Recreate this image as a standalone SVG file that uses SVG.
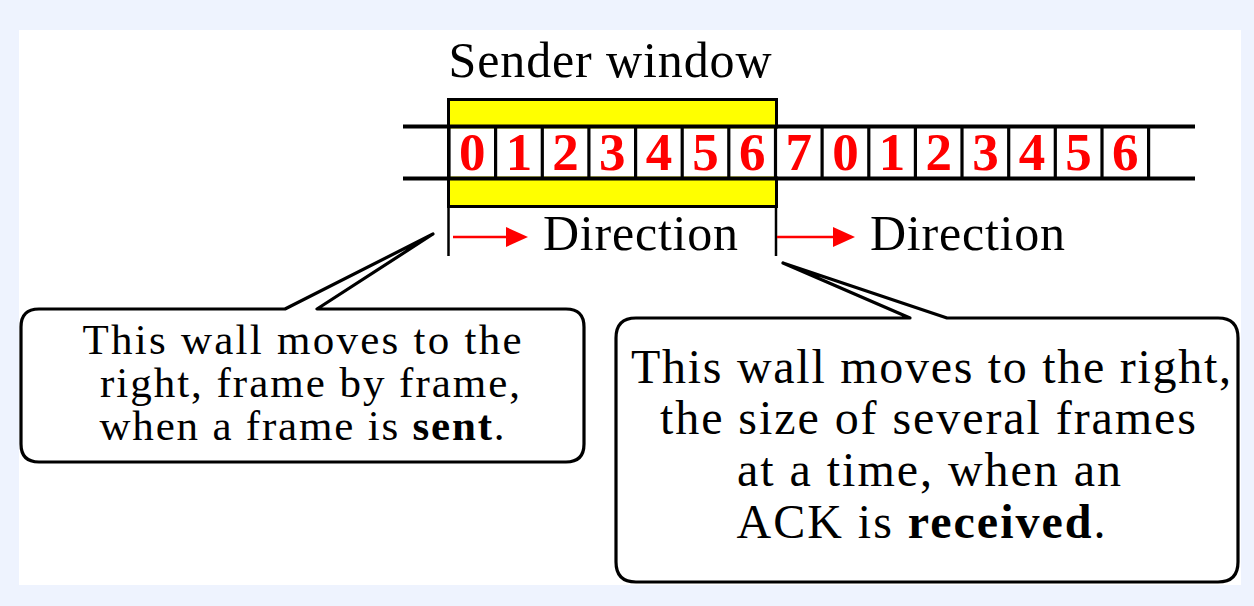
<svg xmlns="http://www.w3.org/2000/svg" width="1254" height="606" viewBox="0 0 1254 606">
<style>
.txt{font-family:"Liberation Serif","Times New Roman",serif;fill:#000}
.dig{font-family:"Liberation Serif","Times New Roman",serif;font-weight:bold;font-size:53px;fill:#FF0000;text-anchor:middle}
.line{stroke:#000;fill:none}
.red{stroke:#FF0000;stroke-width:2.5;fill:none}
.call{fill:#fff;stroke:#000;stroke-width:3.2;stroke-linejoin:round}
</style>
<defs>
<polygon id="ahead" points="0,-10 22,0 0,10" fill="#FF0000"/>
</defs>
<rect x="0" y="0" width="1254" height="606" fill="#EEF3FE"/>
<rect x="19" y="30" width="1222" height="555" fill="#FFFFFF"/>

<g id="sender-window">
<text class="txt" x="610" y="77" font-size="50" text-anchor="middle" textLength="323" lengthAdjust="spacing">Sender window</text>
<rect x="448.5" y="99.5" width="328" height="107" fill="#FFFF00" stroke="#000" stroke-width="3"/>
</g>

<g id="tape">
<rect x="449" y="128.5" width="699.6" height="48" fill="#fff"/>
<line class="line" x1="403" y1="126.5" x2="1195" y2="126.5" stroke-width="4"/>
<line class="line" x1="403" y1="178.5" x2="1195" y2="178.5" stroke-width="4"/>
<g stroke="#000" stroke-width="3.2">
<line x1="449" y1="126" x2="449" y2="179"/>
<line x1="495.6" y1="126" x2="495.6" y2="179"/>
<line x1="542.3" y1="126" x2="542.3" y2="179"/>
<line x1="588.9" y1="126" x2="588.9" y2="179"/>
<line x1="635.6" y1="126" x2="635.6" y2="179"/>
<line x1="682.2" y1="126" x2="682.2" y2="179"/>
<line x1="728.8" y1="126" x2="728.8" y2="179"/>
<line x1="775.5" y1="126" x2="775.5" y2="179"/>
<line x1="822.1" y1="126" x2="822.1" y2="179"/>
<line x1="868.8" y1="126" x2="868.8" y2="179"/>
<line x1="915.4" y1="126" x2="915.4" y2="179"/>
<line x1="962" y1="126" x2="962" y2="179"/>
<line x1="1008.7" y1="126" x2="1008.7" y2="179"/>
<line x1="1055.3" y1="126" x2="1055.3" y2="179"/>
<line x1="1102" y1="126" x2="1102" y2="179"/>
<line x1="1148.6" y1="126" x2="1148.6" y2="179"/>
</g>
<text class="dig" x="472.3" y="170">0</text>
<text class="dig" x="519" y="170">1</text>
<text class="dig" x="565.6" y="170">2</text>
<text class="dig" x="612.2" y="170">3</text>
<text class="dig" x="658.9" y="170">4</text>
<text class="dig" x="705.5" y="170">5</text>
<text class="dig" x="752.2" y="170">6</text>
<text class="dig" x="798.8" y="170">7</text>
<text class="dig" x="845.4" y="170">0</text>
<text class="dig" x="892.1" y="170">1</text>
<text class="dig" x="938.7" y="170">2</text>
<text class="dig" x="985.4" y="170">3</text>
<text class="dig" x="1032" y="170">4</text>
<text class="dig" x="1078.6" y="170">5</text>
<text class="dig" x="1125.3" y="170">6</text>
</g>

<g id="walls">
<line class="line" x1="448.5" y1="206" x2="448.5" y2="256" stroke-width="2.5"/>
<line class="line" x1="776" y1="206" x2="776" y2="256" stroke-width="2.5"/>
</g>

<g id="direction-1">
<line class="red" x1="453" y1="237" x2="508" y2="237"/>
<use href="#ahead" x="506" y="237"/>
<text class="txt" x="543" y="250" font-size="50" textLength="195" lengthAdjust="spacing">Direction</text>
</g>
<g id="direction-2">
<line class="red" x1="777" y1="237" x2="834" y2="237"/>
<use href="#ahead" x="833" y="237"/>
<text class="txt" x="870" y="250" font-size="50" textLength="195" lengthAdjust="spacing">Direction</text>
</g>

<g id="callout-left">
<path class="call" d="M285,309 L433,234 L317,309 L566,309 Q584,309 584,327 L584,444 Q584,462 566,462 L39,462 Q21,462 21,444 L21,327 Q21,309 39,309 Z"/>
<text class="txt" font-size="43" text-anchor="middle" x="302" y="354" textLength="439" lengthAdjust="spacing">This wall moves to the</text>
<text class="txt" font-size="43" text-anchor="middle" x="310" y="397" textLength="420" lengthAdjust="spacing">right, frame by frame,</text>
<text class="txt" font-size="43" text-anchor="middle" x="302" y="440" textLength="405" lengthAdjust="spacing">when a frame is <tspan font-weight="bold">sent</tspan>.</text>
</g>

<g id="callout-right">
<path class="call" d="M910,318 L783,263 L947,318 L1218,318 Q1238,318 1238,338 L1238,562 Q1238,582 1218,582 L636,582 Q616,582 616,562 L616,338 Q616,318 636,318 Z"/>
<text class="txt" font-size="48" text-anchor="middle" x="931" y="383" textLength="600" lengthAdjust="spacing">This wall moves to the right,</text>
<text class="txt" font-size="48" text-anchor="middle" x="928" y="434" textLength="536" lengthAdjust="spacing">the size of several frames</text>
<text class="txt" font-size="48" text-anchor="middle" x="929" y="486" textLength="384" lengthAdjust="spacing">at a time, when an</text>
<text class="txt" font-size="48" text-anchor="middle" x="921" y="538" textLength="369" lengthAdjust="spacing">ACK is <tspan font-weight="bold">received</tspan>.</text>
</g>
</svg>
